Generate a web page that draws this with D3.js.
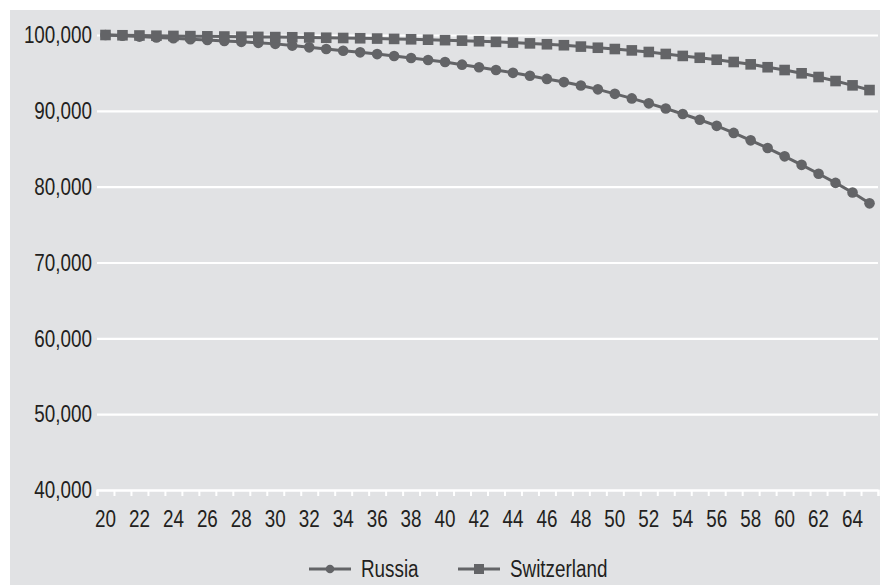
<!DOCTYPE html>
<html><head><meta charset="utf-8">
<script src="https://cdn.jsdelivr.net/npm/d3@7"></script>
<style>
html,body{margin:0;padding:0;background:#fff;}
svg{display:block;}
text{font-family:"Liberation Sans",Arial,sans-serif;fill:#231f20;}
</style></head>
<body>
<svg id="c" width="880" height="585"></svg>
<script>
const ages = d3.range(20, 66);
const russia = [100000,99895,99790,99680,99570,99455,99340,99220,99095,98965,
  98830,98600,98370,98150,97930,97710,97480,97230,96970,96710,
  96440,96090,95740,95380,95010,94620,94210,93790,93350,92830,
  92240,91640,90990,90310,89580,88820,88020,87090,86110,85090,
  84000,82880,81700,80500,79240,77800];
const switzerland = [100000,99965,99935,99905,99875,99850,99825,99800,99775,99750,
  99725,99700,99670,99640,99605,99570,99530,99485,99435,99380,
  99320,99255,99180,99095,99000,98895,98780,98650,98470,98320,
  98150,97970,97760,97500,97240,97000,96740,96440,96130,95750,
  95380,94950,94460,93930,93360,92740];
const yTicks = [40000,50000,60000,70000,80000,90000,100000];
const xTickLabels = d3.range(20, 65, 2);
const seriesNames = ["Russia","Switzerland"];

const SX = 0.82, FS = 23, COL = "#636467";
const svg = d3.select("#c");
svg.append("rect").attr("x",10).attr("y",10).attr("width",870).attr("height",575).attr("fill","#e1e2e4");

const L = 97, R = 878, T = 35, B = 490;
const x = d3.scaleBand().domain(ages).range([L, R]).padding(0);
const xl = d3.scaleLinear().domain([19.5, 65.5]).range([L, R]);
const y = d3.scaleLinear().domain([40000, 100000]).range([B, T]);

// y axis + gridlines
const gy = svg.append("g").attr("transform",`translate(${L},0)`)
  .call(d3.axisLeft(y).tickValues(yTicks).tickSize(-(R-L)).tickPadding(0).tickFormat(d3.format(",")));
gy.select(".domain").remove();
gy.selectAll(".tick line").attr("stroke","#fff").attr("stroke-width",2.2);
gy.selectAll(".tick text").attr("x",-5/SX).attr("dy","0.34em")
  .attr("transform",`scale(${SX},1)`).style("font-size",FS+"px")
  .style("font-family","'Liberation Sans',Arial,sans-serif").attr("fill","#231f20");

// x tick marks at category boundaries
const gxt = svg.append("g").attr("transform",`translate(0,${B})`)
  .call(d3.axisBottom(xl).tickValues(d3.range(19.5, 66, 1)).tickSize(6).tickFormat(""));
gxt.select(".domain").attr("stroke","#fff").attr("stroke-width",2.2);
gxt.selectAll(".tick line").attr("stroke","#fff").attr("stroke-width",2);

// x labels
const gx = svg.append("g").attr("transform",`translate(0,${B})`)
  .call(d3.axisBottom(x).tickValues(xTickLabels).tickSize(0).tickPadding(21));
gx.select(".domain").remove();
gx.selectAll(".tick text").each(function(){
  const t = d3.select(this);
  t.attr("transform",`scale(${SX},1)`);
}).style("font-size",FS+"px").style("font-family","'Liberation Sans',Arial,sans-serif").attr("fill","#231f20");

const line = d3.line().x((d,i)=>x(ages[i])+x.bandwidth()/2).y(d=>y(d));
const cx = (d,i)=>x(ages[i])+x.bandwidth()/2;

// Russia
svg.append("path").datum(russia).attr("d",line).attr("fill","none").attr("stroke",COL).attr("stroke-width",3);
svg.append("g").selectAll("circle").data(russia).join("circle")
  .attr("cx",cx).attr("cy",d=>y(d)).attr("r",5.3).attr("fill",COL);
// Switzerland
svg.append("path").datum(switzerland).attr("d",line).attr("fill","none").attr("stroke",COL).attr("stroke-width",3);
const S = 10.6;
svg.append("g").selectAll("rect").data(switzerland).join("rect")
  .attr("x",(d,i)=>cx(d,i)-S/2).attr("y",d=>y(d)-S/2).attr("width",S).attr("height",S).attr("fill",COL);

// legend
const legX = [309, 458];
const lg = svg.append("g").selectAll("g").data(seriesNames).join("g")
  .attr("transform",(d,i)=>`translate(${legX[i]},569)`);
lg.append("line").attr("x1",0).attr("x2",42).attr("y1",0).attr("y2",0).attr("stroke",COL).attr("stroke-width",3);
lg.each(function(d,i){
  const g = d3.select(this);
  if(i===0) g.append("circle").attr("cx",21).attr("cy",0).attr("r",4.3).attr("fill",COL);
  else g.append("rect").attr("x",21-5).attr("y",-5).attr("width",10).attr("height",10).attr("fill",COL);
});
lg.append("text").attr("transform",`translate(52,0) scale(${SX},1)`).attr("dy","0.35em")
  .style("font-size",FS+"px").text(d=>d);
</script>
</body></html>
